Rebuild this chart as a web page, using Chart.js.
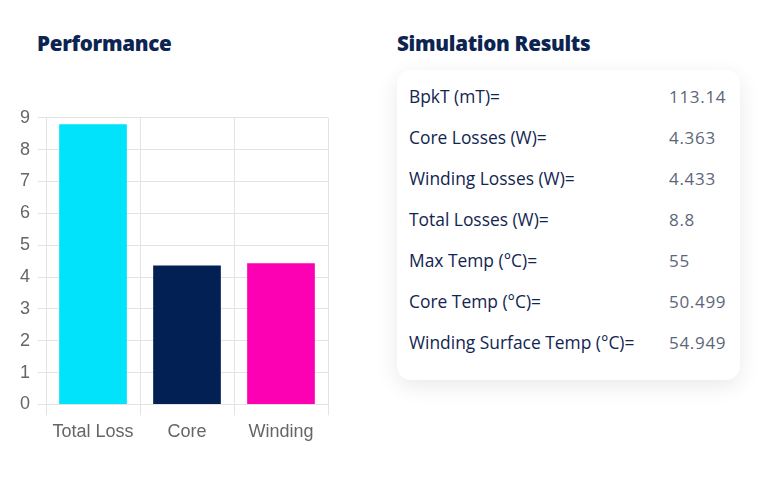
<!DOCTYPE html>
<html>
<head>
<meta charset="utf-8">
<script src="https://cdn.jsdelivr.net/npm/chart.js@4"></script>
<style>
  html, body { margin:0; padding:0; background:#fff; width:782px; height:479px; overflow:hidden; }
  body { position:relative; font-family:"Open Sans", sans-serif; }
  .title { position:absolute; font-weight:800; font-size:20.6px; color:#0c2452; letter-spacing:-0.3px; }
  #perfTitle { left:37px; top:29px; }
  #simTitle { left:397px; top:29px; }
  #chartBox { position:absolute; left:0px; top:99px; width:340px; height:360px; }
  .card { position:absolute; left:397px; top:70px; width:343px; height:310px; background:#fff;
          border-radius:14px; box-shadow:0 6px 22px rgba(0,0,0,0.09); }
  .row { position:absolute; left:12px; height:41px; line-height:41px; font-size:17.4px; width:330px; }
  .row .lab { position:absolute; left:0; color:#112551; font-weight:500; }
  .row .val { position:absolute; left:260px; color:#5d6678; letter-spacing:0.7px; font-size:17px; }
</style>
</head>
<body>
<div class="title" id="perfTitle">Performance</div>
<div class="title" id="simTitle">Simulation Results</div>
<div id="chartBox"><canvas id="c"></canvas></div>
<div class="card" id="card"></div>
<script>
const categories = ["Total Loss", "Core", "Winding"];
const lossValues = [8.8, 4.363, 4.433];
const barColors = ["#00e3fb", "#032055", "#fc00b4"];
const yTicks = [0,1,2,3,4,5,6,7,8,9];

const resultLabels = ["BpkT (mT)=", "Core Losses (W)=", "Winding Losses (W)=", "Total Losses (W)=", "Max Temp (°C)=", "Core Temp (°C)=", "Winding Surface Temp (°C)="];
const resultValues = ["113.14", "4.363", "4.433", "8.8", "55", "50.499", "54.949"];

const card = document.getElementById('card');
resultLabels.forEach((l, i) => {
  const r = document.createElement('div');
  r.className = 'row';
  r.style.top = (6 + i * 41) + 'px';
  r.innerHTML = '<span class="lab"></span><span class="val"></span>';
  r.querySelector('.lab').textContent = l;
  r.querySelector('.val').textContent = resultValues[i];
  card.appendChild(r);
});

new Chart(document.getElementById('c'), {
  type: 'bar',
  data: {
    labels: categories,
    datasets: [{ data: lossValues, backgroundColor: barColors, borderWidth: 0 }]
  },
  options: {
    responsive: true,
    maintainAspectRatio: false,
    animation: false,
    layout: { padding: { left: 12, right: 12, top: 0, bottom: 10 } },
    plugins: { legend: { display: false }, tooltip: { enabled: false } },
    scales: {
      x: {
        grid: { color: '#e3e3e3', tickLength: 11 },
        border: { color: '#e3e3e3' },
        ticks: { color: '#666', font: { family: 'Liberation Sans', size: 18 }, padding: 6 }
      },
      y: {
        min: 0, max: 9,
        afterBuildTicks: (ax) => { ax.ticks = yTicks.map(v => ({ value: v })); },
        grid: { color: '#e3e3e3', tickLength: 8 },
        border: { color: '#e3e3e3' },
        ticks: { color: '#666', font: { family: 'Liberation Sans', size: 18 }, padding: 8 }
      }
    }
  }
});
</script>
</body>
</html>
